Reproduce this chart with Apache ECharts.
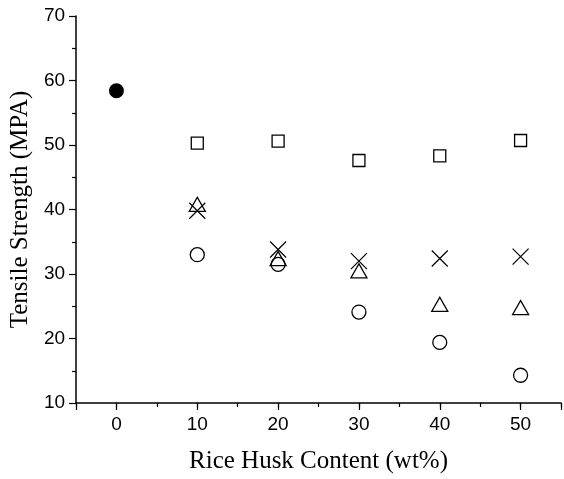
<!DOCTYPE html>
<html>
<head>
<meta charset="utf-8">
<script src="https://cdn.jsdelivr.net/npm/echarts@6/dist/echarts.min.js"></script>
<style>
  html, body { margin: 0; padding: 0; background: #fff; }
  #chart { width: 564px; height: 479px; }
</style>
</head>
<body>
<div id="chart"></div>
<script>
// rice husk content (wt%)
var huskContent = [10, 20, 30, 40, 50];
// neat polymer, 0 wt%
var neatPoint = [0, 58.4];
// the four filled series
var squareVals = [50.3, 50.6, 47.6, 48.3, 50.7];
var crossVals = [39.8, 33.8, 32.0, 32.4, 32.7];
var triangleVals = [40.8, 32.4, 30.5, 25.3, 24.8];
var circleVals = [33.0, 31.5, 24.1, 19.4, 14.3];

var xTitle = 'Rice Husk Content (wt%)';
var yTitle = 'Tensile Strength (MPA)';

function pairs(vals) {
	return huskContent.map(function (x, i) { return [x, vals[i]]; });
}

var tickFont = { fontFamily: 'Liberation Sans', fontSize: 19, color: '#000' };
var nameFont = { fontFamily: 'Liberation Serif', fontSize: 25, color: '#000' };
var openStyle = { color: 'transparent', borderColor: '#000', borderWidth: 1.3, opacity: 1 };

var chart = echarts.init(document.getElementById('chart'));

var option = {
	animation: false,
	backgroundColor: '#fff',
	grid: { left: 75, right: -4, top: 16, bottom: 75 },
	xAxis: [{
		type: 'value',
		min: -5,
		max: 55,
		interval: 5,
		name: xTitle,
		nameLocation: 'middle',
		nameGap: 46,
		nameTextStyle: nameFont,
		axisLine: { show: true, onZero: false, lineStyle: { color: '#000', width: 1.5 } },
		axisTick: { show: true, length: 4, lineStyle: { color: '#000', width: 1.2 } },
		axisLabel: Object.assign({
			margin: 12,
			formatter: function (v) { return v % 10 === 0 ? String(v) : ''; }
		}, tickFont),
		splitLine: { show: false }
	}, {
		// second axis only for the longer major ticks
		type: 'value',
		position: 'bottom',
		min: -5,
		max: 55,
		splitNumber: 6,
		axisLine: { show: false, onZero: false },
		axisTick: { show: true, length: 7, lineStyle: { color: '#000', width: 1.2 } },
		axisLabel: { show: false },
		splitLine: { show: false }
	}],
	yAxis: {
		type: 'value',
		min: 10,
		max: 70,
		interval: 10,
		name: yTitle,
		nameLocation: 'middle',
		nameGap: 40,
		nameTextStyle: nameFont,
		axisLine: { show: true, onZero: false, lineStyle: { color: '#000', width: 1.5 } },
		axisTick: { show: true, length: 7, lineStyle: { color: '#000', width: 1.2 } },
		minorTick: { show: true, splitNumber: 2, length: 4, lineStyle: { color: '#000', width: 1.2 } },
		axisLabel: Object.assign({ margin: 11 }, tickFont),
		splitLine: { show: false }
	},
	series: [
		{
			type: 'scatter',
			data: [neatPoint],
			symbol: 'circle',
			symbolSize: 15,
			itemStyle: { color: '#000', opacity: 1 }
		},
		{
			type: 'scatter',
			data: pairs(squareVals),
			symbol: 'rect',
			symbolSize: 12,
			itemStyle: openStyle
		},
		{
			type: 'scatter',
			data: pairs(crossVals),
			symbol: 'path://M0,0L16,16M16,0L0,16',
			symbolSize: 16,
			itemStyle: { color: 'transparent', borderColor: '#000', borderWidth: 1.2, opacity: 1 }
		},
		{
			type: 'scatter',
			data: pairs(triangleVals),
			symbol: 'triangle',
			symbolSize: [16, 14],
			itemStyle: openStyle
		},
		{
			type: 'scatter',
			data: pairs(circleVals),
			symbol: 'circle',
			symbolSize: 14,
			itemStyle: openStyle
		}
	]
};

chart.setOption(option);
</script>
</body>
</html>
